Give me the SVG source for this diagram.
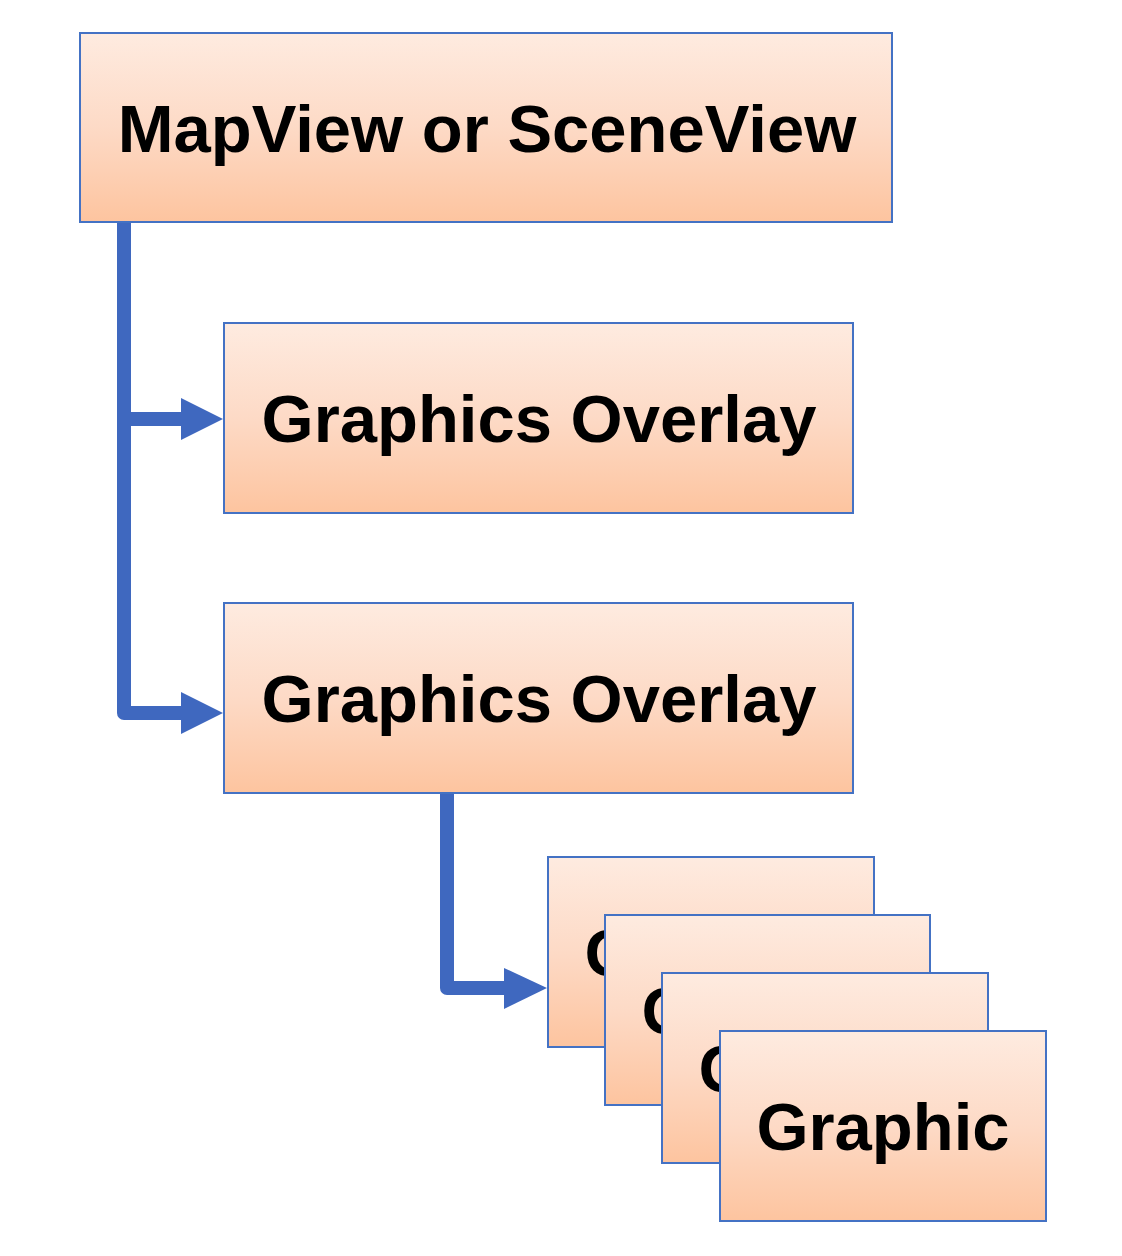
<svg xmlns="http://www.w3.org/2000/svg" width="1122" height="1256" viewBox="0 0 1122 1256">
<defs>
<linearGradient id="peach" x1="0" y1="0" x2="0" y2="1">
<stop offset="0" stop-color="#FEEBE0"/>
<stop offset="0.5" stop-color="#FDDAC6"/>
<stop offset="1" stop-color="#FDC49F"/>
</linearGradient>
<style>
.box{fill:url(#peach);stroke:#4472C4;stroke-width:2}
.lbl{font-family:"Liberation Sans",Arial,sans-serif;font-weight:bold;font-size:67px;fill:#000;text-anchor:middle}
.conn{fill:none;stroke:#3F68BF;stroke-width:14;stroke-linejoin:round}
.head{fill:#3F68BF}
</style>
</defs>
<rect width="1122" height="1256" fill="#fff"/>
<g id="mapview">
<rect class="box" x="80" y="33" width="812" height="189"/>
<text class="lbl" x="487" y="152">MapView or SceneView</text>
</g>
<g id="overlay1">
<rect class="box" x="224" y="323" width="629" height="190"/>
<text class="lbl" x="539" y="442">Graphics Overlay</text>
</g>
<g id="overlay2">
<rect class="box" x="224" y="603" width="629" height="190"/>
<text class="lbl" x="539" y="722">Graphics Overlay</text>
</g>
<g id="graphic1">
<rect class="box" x="548" y="857" width="326" height="190"/>
<text class="lbl" x="711" y="976">Graphic</text>
</g>
<g id="graphic2">
<rect class="box" x="605" y="915" width="325" height="190"/>
<text class="lbl" x="768" y="1034">Graphic</text>
</g>
<g id="graphic3">
<rect class="box" x="662" y="973" width="326" height="190"/>
<text class="lbl" x="825" y="1092">Graphic</text>
</g>
<g id="graphic4">
<rect class="box" x="720" y="1031" width="326" height="190"/>
<text class="lbl" x="883" y="1150">Graphic</text>
</g>
<g id="connectors">
<path class="conn" d="M124 223 V713 H183"/>
<path class="conn" d="M124 419 H183"/>
<polygon class="head" points="181,398 223,419 181,440"/>
<polygon class="head" points="181,692 223,713 181,734"/>
<path class="conn" d="M447 794 V988 H506"/>
<polygon class="head" points="504,968 547,988 504,1009"/>
</g>
</svg>
